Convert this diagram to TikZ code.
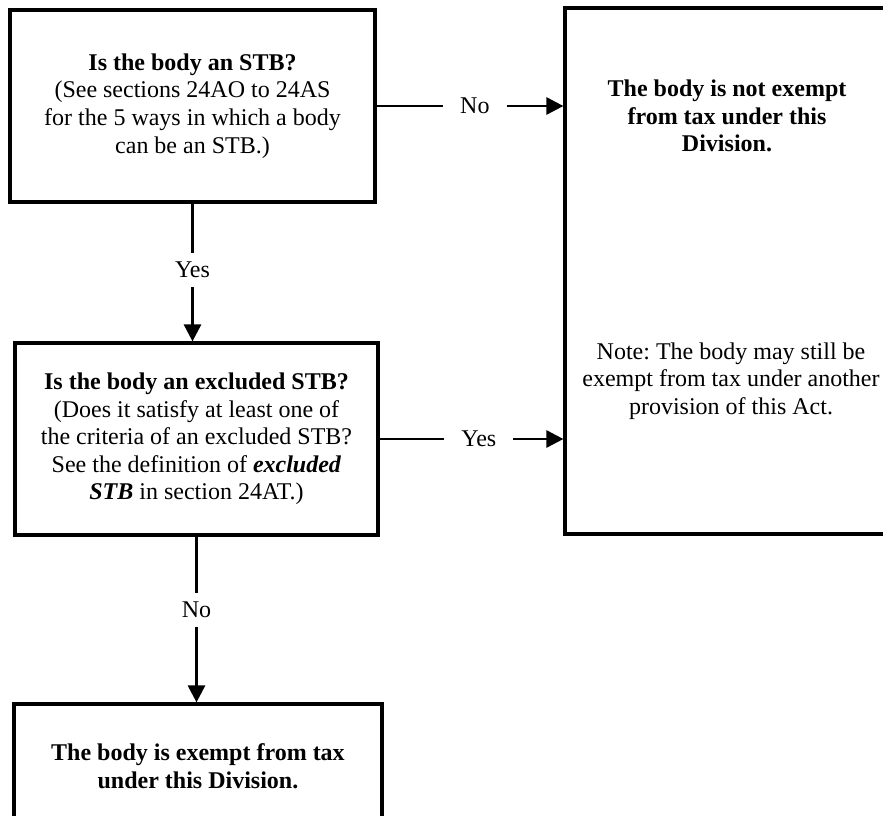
\documentclass[tikz,border=0pt]{standalone}
\usepackage{fontspec}
\setmainfont{Liberation Serif}
\usetikzlibrary{arrows.meta}
\frenchspacing
\begin{document}
\begin{tikzpicture}[x=1pt,y=1pt,
  txt/.style={font=\fontsize{24}{27.6}\selectfont, align=center},
  box/.style={txt, draw, line width=3.2pt, inner sep=0pt},
  conn/.style={line width=2.8pt, -{Triangle[length=17pt,width=17pt]}},
  hlbl/.style={txt, fill=white, inner xsep=17pt, inner ysep=2pt},
  vlbl/.style={txt, fill=white, inner xsep=2pt, inner ysep=9pt}]
\useasboundingbox (0,0) rectangle (883,-815);
\clip (0,0) rectangle (883,-815);

\node[box, minimum width=365, minimum height=192] (b1) at (192.5,-106)
  {\textbf{Is the body an STB?}\\(See sections 24AO to 24AS\\for the 5 ways in which a body\\can be an STB.)};

\node[box, minimum width=363, minimum height=192] (b2) at (196.5,-439)
  {\textbf{Is the body an excluded STB?}\\(Does it satisfy at least one of\\the criteria of an excluded STB?\\See the definition of \textbf{\textit{excluded}}\\\textbf{\textit{STB}} in section 24AT.)};

\node[box, minimum width=325, minimum height=526] (rb) at (727.5,-271) {};
\node[txt, font=\fontsize{24}{27.6}\selectfont\bfseries] (t1) at (727,-116)
  {The body is not exempt\\from tax under this\\Division.};
\node[txt] (t2) at (731,-381)
  {Note: The body may still be\\exempt from tax under another\\provision of this Act.};

\node[box, minimum width=368, minimum height=124] (b3) at (198,-766)
  {\textbf{The body is exempt from tax}\\\textbf{under this Division.}};

\draw[conn] (b1.east) -- node[hlbl, pos=0.526] (l1) {No} (b1.east -| rb.west);
\draw[conn] (b2.east) -- node[hlbl, pos=0.54] (l2) {Yes} (b2.east -| rb.west);
\draw[conn] (b1.south) -- node[vlbl, pos=0.48] (l3) {Yes} (b1.south |- b2.north);
\draw[conn] (b2.south) -- node[vlbl, pos=0.44] (l4) {No} (b2.south |- b3.north);
\end{tikzpicture}
\end{document}
